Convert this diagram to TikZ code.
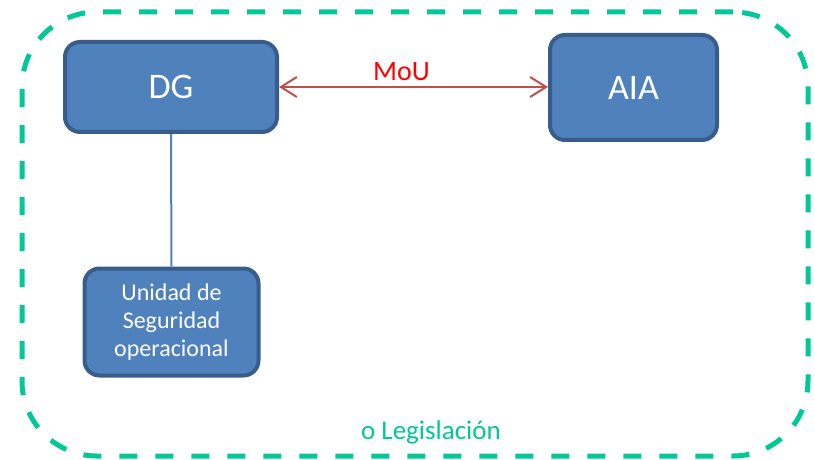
\documentclass[tikz,border=0pt]{standalone}
\usepackage{fontspec}
\setmainfont{Carlito}
\usetikzlibrary{arrows.meta}
\definecolor{boxfill}{HTML}{4F81BD}
\definecolor{boxline}{HTML}{385D8A}
\definecolor{framegreen}{HTML}{00C896}
\definecolor{mouline}{HTML}{C0504D}
\begin{document}
\begin{tikzpicture}[x=1pt, y=-1pt,
    unit/.style={draw=boxline, fill=boxfill, line width=4pt, rounded corners=15pt, text=white, align=center, inner sep=0pt},
    bigtext/.style={font=\fontsize{36}{40}\selectfont}]
    \useasboundingbox (0,0) rectangle (815,460);

    \node[draw=framegreen, line width=5pt, dash pattern=on 18pt off 18pt, rounded corners=75pt, minimum width=786pt, minimum height=444pt, inner sep=0pt] at (415,234) (frame) {};
    \node[text=framegreen, font=\fontsize{27}{30}\selectfont, anchor=base] at (431,439) (leg) {o Legislación};

    \node[unit, bigtext, minimum width=212pt, minimum height=90pt] at (171,87) (DG) {DG};
    \node[unit, bigtext, minimum width=167pt, minimum height=105pt] at (633.5,87.5) (AIA) {AIA};
    \node[unit, font=\fontsize{24}{28}\selectfont, minimum width=174pt, minimum height=107pt] at (171.5,322) (USO) {Unidad de\\Seguridad\\operacional};

    \draw[boxfill, line width=2pt] (DG) -- (USO);
    \draw[mouline, line width=2pt, {Straight Barb[length=16pt, width=20pt]}-{Straight Barb[length=16pt, width=20pt]}] (DG.east) -- (AIA.west |- DG.east) node[midway, above=2pt, text=red, font=\fontsize{28}{30}\selectfont, xshift=-12pt] (mou) {MoU};
\end{tikzpicture}
\end{document}
